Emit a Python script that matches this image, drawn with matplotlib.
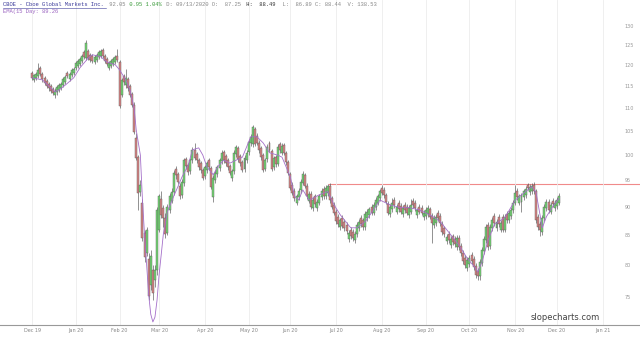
import matplotlib
matplotlib.use('Agg')
import matplotlib.pyplot as plt
from matplotlib.ticker import NullLocator, NullFormatter
from matplotlib.lines import Line2D
import pandas as pd

# daily candles, 2 Dec 2019 .. 2 Dec 2020 (one row per month)
opens = [
    118.2, 116.5, 116.9, 117.4, 119.4, 118.0, 117.0, 116.2, 115.6, 115.0, 114.4, 112.9, 113.6, 114.1, 114.6, 115.3, 116.0, 118.2, 116.8, 117.6, 118.2,
    119.3, 119.8, 120.4, 121.0, 123.2, 121.8, 123.5, 122.6, 122.2, 120.8, 121.4, 122.0, 122.4, 123.8, 122.4, 121.6, 119.4, 119.8, 120.4, 120.8, 122.4,
    120.9, 113.0, 117.4, 115.2, 116.8, 115.0, 113.2, 110.8, 103.5, 99.6, 92.8, 90.8, 85.4, 82.0, 81.0, 76.8, 79.2, 77.6, 79.2,
    86.0, 91.5, 89.8, 88.0, 85.4, 89.5, 91.2, 92.8, 97.2, 96.2, 94.0, 92.2, 94.5, 99.2, 98.0, 96.8, 99.0, 101.0, 100.2, 99.0, 98.4, 97.0,
    95.8, 97.0, 99.0, 97.4, 91.8, 95.0, 96.2, 97.4, 98.8, 100.6, 99.8, 99.0, 97.8, 95.4, 96.8, 100.2, 101.4, 99.8, 98.6, 97.2, 99.0,
    100.6, 102.4, 102.2, 105.4, 104.0, 102.6, 101.4, 100.0, 97.3, 99.2, 102.4, 100.8, 97.6, 99.6, 98.3, 102.2, 100.5, 102.0, 100.4, 98.6,
    96.2, 94.2, 93.0, 90.8, 91.8, 93.2, 94.6, 96.0, 94.0, 91.2, 92.4, 89.8, 92.0, 89.8, 90.8, 91.8, 93.4, 92.0, 92.6, 94.0, 91.6, 90.4,
    89.2, 88.2, 86.4, 88.0, 87.4, 86.8, 84.4, 86.0, 85.6, 84.2, 85.2, 86.2, 88.0, 87.6, 86.4, 88.0, 88.6, 90.0, 89.0, 90.0, 90.8, 91.6,
    93.6, 93.2, 92.2, 90.6, 88.8, 89.6, 91.4, 89.2, 90.8, 90.2, 88.8, 90.4, 90.0, 88.6, 89.2, 91.2, 90.8, 88.6, 90.0, 89.8, 88.2,
    88.4, 88.8, 89.6, 88.4, 86.8, 87.2, 89.0, 88.4, 87.0, 86.2, 84.0, 85.2, 83.4, 84.8, 84.4, 83.0, 84.6, 83.2, 82.0, 81.2, 79.6,
    80.2, 81.6, 81.0, 79.8, 79.0, 78.2, 80.4, 82.4, 84.2, 86.8, 83.2, 86.2, 88.4, 86.2, 88.2, 86.0, 88.2, 86.0, 88.8, 87.6, 88.4, 89.4,
    90.8, 93.0, 90.8, 91.0, 91.8, 92.2, 94.2, 92.8, 93.0, 94.2, 92.9, 88.2, 87.0, 85.6, 88.0, 89.8, 91.0, 89.2, 91.2, 89.8,
    90.2, 90.8,
]
highs = [
    118.7, 118.0, 118.3, 120.5, 119.9, 118.5, 117.5, 116.7, 116.1, 115.5, 114.9, 114.5, 115.3, 115.7, 116.1, 117.1, 117.6, 118.7, 118.3, 119.3, 119.7,
    121.0, 121.5, 122.1, 122.8, 123.7, 126.3, 124.0, 123.1, 122.7, 122.5, 123.1, 123.7, 124.1, 124.3, 122.9, 122.1, 121.1, 121.5, 122.1, 122.5, 124.0,
    121.3, 117.0, 117.9, 119.0, 117.3, 115.5, 113.7, 111.3, 104.5, 100.0, 95.0, 91.5, 86.0, 86.5, 82.0, 82.5, 80.0, 80.0, 90.0,
    92.5, 93.0, 90.3, 89.0, 90.5, 92.6, 93.5, 97.0, 97.8, 96.7, 94.5, 95.3, 99.5, 99.7, 98.5, 99.5, 101.6, 102.5, 100.7, 99.5, 98.9, 97.5,
    98.1, 98.9, 99.5, 97.9, 96.0, 97.0, 98.1, 99.5, 101.0, 101.1, 100.3, 99.5, 98.3, 97.3, 101.0, 102.1, 101.9, 100.3, 99.1, 100.0, 101.0,
    103.3, 104.3, 106.3, 105.9, 104.5, 103.1, 101.9, 100.5, 99.5, 102.2, 102.9, 101.3, 99.9, 100.1, 102.2, 102.7, 102.4, 102.5, 100.9, 99.1,
    96.7, 94.7, 93.5, 92.5, 93.5, 95.3, 96.8, 96.5, 94.5, 93.0, 92.9, 91.8, 92.5, 91.5, 92.5, 93.5, 93.9, 94.1, 94.4, 94.5, 92.1, 90.9,
    89.7, 88.7, 88.1, 88.5, 87.9, 87.3, 85.9, 86.5, 86.1, 85.8, 87.3, 87.9, 88.5, 88.1, 89.3, 89.7, 90.1, 90.5, 90.9, 91.8, 92.5, 93.4,
    94.1, 93.7, 92.7, 91.1, 90.6, 91.6, 91.9, 90.6, 91.3, 90.7, 90.4, 90.9, 90.5, 90.4, 91.5, 91.7, 91.3, 89.9, 90.5, 90.3, 89.4,
    90.0, 90.3, 90.1, 88.9, 88.5, 88.8, 89.5, 88.9, 87.5, 86.7, 85.2, 85.7, 84.9, 85.3, 84.9, 85.0, 85.1, 83.7, 82.5, 81.7, 81.4,
    81.7, 82.1, 81.5, 80.3, 79.5, 81.0, 83.0, 84.9, 87.0, 87.3, 87.0, 88.2, 88.9, 87.9, 88.7, 87.7, 88.7, 88.7, 89.3, 89.5, 90.0, 91.3,
    94.2, 93.5, 92.5, 92.7, 93.4, 93.9, 94.6, 94.3, 94.5, 94.7, 93.4, 88.7, 87.5, 88.5, 90.6, 91.5, 91.5, 90.9, 91.7, 91.3,
    91.8, 92.6,
]
lows = [
    116.5, 116.0, 116.4, 116.9, 117.5, 116.1, 115.3, 114.5, 114.0, 113.4, 112.9, 112.4, 113.1, 113.6, 114.1, 114.8, 115.5, 116.9, 116.3, 117.1, 117.7,
    118.8, 119.3, 119.9, 120.5, 121.5, 121.3, 121.3, 120.8, 120.5, 120.3, 120.9, 121.5, 121.9, 121.8, 120.5, 119.9, 118.9, 119.3, 119.9, 120.3, 120.7,
    110.0, 112.5, 115.3, 114.7, 114.0, 112.5, 110.3, 104.3, 99.0, 89.5, 92.0, 84.0, 80.5, 81.5, 74.5, 76.0, 74.5, 76.5, 78.5,
    85.5, 88.0, 86.5, 84.5, 85.0, 89.0, 90.7, 92.3, 95.3, 94.3, 91.5, 91.7, 94.0, 97.2, 96.1, 96.3, 98.5, 99.0, 98.5, 97.1, 96.5, 95.0,
    95.3, 96.5, 97.1, 93.3, 91.0, 94.5, 95.7, 96.9, 98.3, 98.5, 97.9, 97.1, 96.0, 94.9, 96.3, 99.7, 98.7, 97.9, 96.6, 96.7, 98.5,
    100.1, 101.9, 101.7, 101.8, 102.0, 100.5, 99.1, 96.6, 96.8, 98.7, 100.6, 96.8, 97.1, 97.7, 97.8, 100.5, 100.0, 100.0, 98.1, 96.0,
    93.1, 92.2, 91.1, 90.3, 91.3, 92.7, 94.1, 93.5, 91.5, 90.7, 89.6, 89.3, 90.1, 89.3, 90.3, 91.3, 91.5, 91.5, 92.1, 90.8, 89.6, 88.5,
    87.0, 86.5, 85.9, 86.2, 85.8, 85.2, 83.9, 84.4, 84.1, 83.7, 84.7, 85.7, 86.5, 86.0, 85.9, 87.5, 88.1, 88.5, 88.5, 89.5, 90.3, 91.1,
    92.2, 91.7, 90.5, 88.5, 88.3, 89.1, 89.9, 88.7, 89.1, 88.7, 88.3, 88.9, 88.5, 88.1, 88.7, 89.9, 89.3, 88.1, 88.7, 88.5, 87.7,
    87.9, 88.3, 87.8, 83.7, 86.3, 86.7, 87.5, 86.7, 85.0, 84.7, 83.5, 83.7, 82.9, 83.3, 83.0, 82.5, 82.5, 81.5, 80.2, 79.6, 79.1,
    79.7, 80.2, 79.2, 78.0, 77.7, 77.7, 79.9, 81.9, 83.7, 82.5, 82.7, 85.7, 86.7, 85.7, 86.5, 85.5, 85.5, 85.5, 87.2, 87.1, 87.9, 88.9,
    90.3, 91.3, 90.3, 89.2, 91.3, 91.7, 93.1, 92.3, 92.5, 92.4, 87.2, 86.0, 84.8, 85.1, 87.5, 89.3, 89.0, 88.7, 90.1, 89.3,
    89.7, 90.3,
]
closes = [
    117.0, 117.6, 117.8, 118.9, 118.0, 116.6, 115.8, 115.0, 114.5, 113.9, 113.4, 114.0, 114.8, 115.2, 115.6, 116.6, 117.1, 117.4, 117.8, 118.8, 119.2,
    120.5, 121.0, 121.6, 122.3, 122.0, 125.6, 121.8, 121.3, 121.0, 122.0, 122.6, 123.2, 123.6, 122.3, 121.0, 120.4, 120.6, 121.0, 121.6, 122.0, 121.2,
    110.6, 116.5, 116.0, 117.0, 114.5, 113.0, 110.8, 104.8, 99.5, 92.7, 94.2, 84.5, 81.3, 85.9, 75.2, 81.5, 75.6, 79.2, 89.5,
    92.0, 88.5, 88.0, 85.2, 90.0, 92.0, 92.8, 96.5, 96.0, 94.8, 92.0, 94.8, 99.0, 97.8, 96.6, 99.0, 101.1, 99.5, 99.0, 97.6, 97.0, 95.5,
    97.6, 98.4, 97.6, 93.8, 95.5, 96.5, 97.6, 99.0, 100.5, 99.0, 98.4, 97.6, 96.5, 96.8, 100.5, 101.6, 99.2, 98.4, 97.1, 99.5, 100.5,
    102.8, 103.8, 105.8, 102.3, 102.5, 101.0, 99.6, 97.1, 99.0, 101.7, 101.1, 97.3, 99.4, 98.2, 101.7, 101.0, 101.9, 100.5, 98.6, 96.5,
    93.6, 92.7, 91.6, 92.0, 93.0, 94.8, 96.3, 94.0, 92.0, 92.5, 90.1, 91.3, 90.6, 91.0, 92.0, 93.0, 92.0, 93.6, 94.0, 91.3, 90.1, 89.0,
    87.5, 87.0, 87.6, 86.7, 86.3, 85.7, 85.4, 84.9, 84.6, 85.3, 86.8, 87.4, 87.0, 86.5, 88.8, 89.2, 89.6, 89.0, 90.4, 91.3, 92.0, 92.9,
    92.7, 92.2, 91.0, 89.0, 90.1, 90.8, 90.4, 90.1, 89.6, 89.2, 89.9, 89.4, 89.0, 89.9, 90.3, 90.4, 89.8, 89.4, 89.2, 89.0, 88.9,
    89.5, 89.8, 88.3, 87.2, 88.0, 88.3, 88.0, 87.2, 85.5, 85.2, 84.7, 84.2, 84.4, 83.8, 83.5, 84.5, 83.0, 82.0, 80.7, 80.1, 80.9,
    81.2, 80.7, 79.7, 78.5, 78.2, 80.5, 82.5, 84.4, 86.5, 83.0, 86.5, 87.7, 87.2, 87.4, 87.0, 87.2, 86.0, 88.2, 87.7, 89.0, 89.5, 90.8,
    92.7, 91.8, 92.0, 92.2, 92.9, 93.4, 93.6, 93.8, 94.0, 92.9, 87.7, 86.5, 86.0, 88.0, 90.1, 91.0, 89.5, 90.4, 90.6, 90.8,
    91.3, 92.0,
]

# smoothed average line (trading-day number, value)
ema_day = [0, 5, 9, 11, 13, 16, 20, 23, 27, 29, 33, 36, 40, 42, 45, 47, 49, 50, 52, 53,
           54, 55, 56, 57, 58, 59, 60, 61, 62, 63, 65, 68, 70, 72, 75, 77, 80, 82, 84, 87,
           89, 92, 95, 98, 101, 105, 108, 111, 114, 118, 120, 124, 126, 128, 130, 133, 138, 142, 145, 148,
           153, 156, 160, 163, 167, 172, 177, 181, 186, 191, 196, 201, 205, 209, 213, 214, 216, 219, 222, 227,
           232, 237, 240, 242, 245, 247, 250, 253]
ema_val = [117.0, 116.5, 114.6, 113.7, 114.2, 115.3, 117.0, 119.4, 121.8, 122.6, 122.1, 120.8, 120.1, 118.9, 116.5, 114.2, 110.0, 105.3, 100.0, 91.3,
           85.1, 80.1, 75.3, 72.4, 71.3, 72.0, 74.5, 78.5, 81.7, 85.1, 89.2, 92.0, 93.8, 95.7, 98.0, 101.1, 101.5, 100.0, 97.6, 96.1,
           97.6, 99.0, 98.4, 99.0, 99.6, 103.8, 103.8, 102.5, 100.5, 100.0, 99.6, 95.7, 92.0, 91.3, 93.2, 91.3, 92.3, 92.9, 90.4, 88.6,
           86.3, 86.3, 87.4, 89.0, 91.3, 90.4, 89.9, 89.9, 89.5, 88.6, 87.4, 85.1, 83.3, 81.1, 79.5, 78.9, 80.5, 84.2, 86.9, 88.1,
           91.3, 92.9, 93.8, 92.7, 86.3, 88.3, 90.1, 91.6]

resist_level = 94.3
resist_from_day = 142

y_ticks = [75, 80, 85, 90, 95, 100, 105, 110, 115, 120, 125, 130]

holidays = pd.to_datetime(['2019-12-25', '2020-01-01', '2020-01-20', '2020-02-17', '2020-04-10',
                           '2020-05-25', '2020-07-03', '2020-09-07', '2020-11-26', '2020-12-25',
                           '2021-01-01', '2021-01-18'])
days = pd.bdate_range('2019-12-02', '2021-01-29')
days = days[~days.isin(holidays)]

n = len(closes)
assert len(opens) == len(highs) == len(lows) == n

# first trading day of every month -> tick
tick_pos, tick_lab = [], []
prev = None
for i, d in enumerate(days):
    key = (d.year, d.month)
    if key != prev:
        tick_pos.append(i)
        tick_lab.append(d.strftime('%b %y'))
        prev = key

fig = plt.figure(figsize=(6.4, 3.38), dpi=100)
ax = fig.add_axes([0, 0.0385, 1.0, 0.9615])
ax.set_yscale('log')

x = list(range(n))
up_col, dn_col = '#72d872', '#d98484'
body_bot = [min(o, c) for o, c in zip(opens, closes)]
body_h = [max(abs(c - o), 0.15) for o, c in zip(opens, closes)]
cols = [up_col if c >= o else dn_col for o, c in zip(opens, closes)]

ax.vlines(x, lows, highs, color='#555555', lw=0.45, zorder=2)
ax.bar(x, body_h, bottom=body_bot, width=0.95, color=cols, edgecolor='#5a5a5a', lw=0.3, zorder=3)

ax.plot(ema_day, ema_val, color='#a46fc9', lw=0.6, zorder=4)

x_right = 291.9
ax.hlines(resist_level, resist_from_day, x_right, color='#f08a8a', lw=0.8, zorder=1)

ax.set_xlim(-15.4, x_right)
ax.set_ylim(70.86, 137.0)

ax.set_xticks(tick_pos)
ax.set_xticklabels(tick_lab)
ax.grid(axis='x', color='#ececec', lw=0.6, zorder=0)
ax.tick_params(axis='x', length=0, labelsize=3.5, labelcolor='#888888', pad=2.5)

ax.yaxis.set_minor_locator(NullLocator())
ax.yaxis.set_minor_formatter(NullFormatter())
ax.set_yticks(y_ticks)
ax.set_yticklabels([str(v) for v in y_ticks])
ax.yaxis.tick_right()
ax.tick_params(axis='y', length=0, labelsize=3.5, labelcolor='#999999', pad=-11)

for s in ['top', 'left', 'right']:
    ax.spines[s].set_visible(False)
ax.spines['bottom'].set_color('#999999')
ax.spines['bottom'].set_linewidth(0.8)

# header, monospace pieces placed by character count
fs = 4
cw = 0.6 * fs * 100 / 72 / 640
x0 = 3 / 640
y1 = 1 - 5 / 338
y2 = 1 - 12 / 338
mono = 'Liberation Mono'
pieces = [
    ('CBOE - Cboe Global Markets Inc.', '#3b3b9a'),
    (' 92.05', '#888888'),
    (' 0.95 1.04%', '#3a9a3a'),
    (' D: 09/13/2020 O:  87.25', '#888888'),
    (' H:  88.49', '#333333'),
    ('  L:  86.89 C: 88.44  V: 138.53', '#888888'),
]
k = 0
for txt, c in pieces:
    fig.text(x0 + k * cw, y1, txt, fontsize=fs, family=mono, color=c, va='center', ha='left')
    k += len(txt)
title_len = len(pieces[0][0])
fig.add_artist(Line2D([x0, x0 + title_len * cw], [y1 - 3.2 / 338] * 2, color='#3b3b9a', lw=0.4))
fig.text(x0, y2, 'EMA(15 Day: 89.26', fontsize=fs, family=mono, color='#9a62c0', va='center', ha='left')

fig.text(600 / 640, 1 - 318 / 338, 'slopecharts.com', fontsize=6, color='#444444',
         ha='right', va='center')

fig.savefig('out.png', dpi=100)
